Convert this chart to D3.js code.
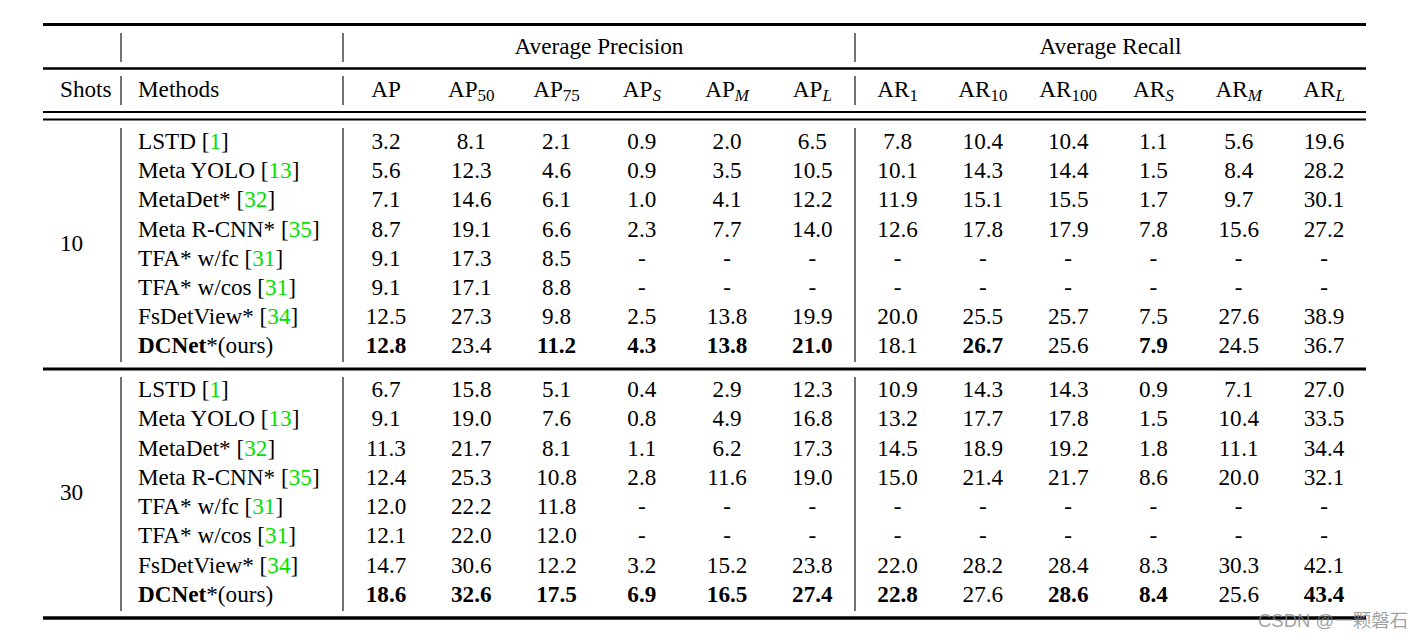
<!DOCTYPE html>
<html>
<head>
<meta charset="utf-8">
<script src="https://cdn.jsdelivr.net/npm/d3@7"></script>
<style>
  html, body { margin: 0; padding: 0; background: #fff; }
  svg { display: block; }
  text { font-family: "Liberation Serif", "Times New Roman", serif; fill: #000; }
</style>
</head>
<body>
<svg id="chart" width="1425" height="640"></svg>
<script>
// ---------------- data ----------------
const shots = ["10", "30"];
const methods = ["LSTD", "Meta YOLO", "MetaDet*", "Meta R-CNN*", "TFA* w/fc", "TFA* w/cos", "FsDetView*", "DCNet"];
const refs = ["1", "13", "32", "35", "31", "31", "34", null];
const apMetrics = [["AP", "", false], ["AP", "50", false], ["AP", "75", false], ["AP", "S", true], ["AP", "M", true], ["AP", "L", true]];
const arMetrics = [["AR", "1", false], ["AR", "10", false], ["AR", "100", false], ["AR", "S", true], ["AR", "M", true], ["AR", "L", true]];
const groupTitles = ["Average Precision", "Average Recall"];

// values per method: 6 AP metrics then 6 AR metrics (null = "-")
const shots10 = [
  [3.2, 8.1, 2.1, 0.9, 2.0, 6.5, 7.8, 10.4, 10.4, 1.1, 5.6, 19.6],
  [5.6, 12.3, 4.6, 0.9, 3.5, 10.5, 10.1, 14.3, 14.4, 1.5, 8.4, 28.2],
  [7.1, 14.6, 6.1, 1.0, 4.1, 12.2, 11.9, 15.1, 15.5, 1.7, 9.7, 30.1],
  [8.7, 19.1, 6.6, 2.3, 7.7, 14.0, 12.6, 17.8, 17.9, 7.8, 15.6, 27.2],
  [9.1, 17.3, 8.5, null, null, null, null, null, null, null, null, null],
  [9.1, 17.1, 8.8, null, null, null, null, null, null, null, null, null],
  [12.5, 27.3, 9.8, 2.5, 13.8, 19.9, 20.0, 25.5, 25.7, 7.5, 27.6, 38.9],
  [12.8, 23.4, 11.2, 4.3, 13.8, 21.0, 18.1, 26.7, 25.6, 7.9, 24.5, 36.7]
];
const shots30 = [
  [6.7, 15.8, 5.1, 0.4, 2.9, 12.3, 10.9, 14.3, 14.3, 0.9, 7.1, 27.0],
  [9.1, 19.0, 7.6, 0.8, 4.9, 16.8, 13.2, 17.7, 17.8, 1.5, 10.4, 33.5],
  [11.3, 21.7, 8.1, 1.1, 6.2, 17.3, 14.5, 18.9, 19.2, 1.8, 11.1, 34.4],
  [12.4, 25.3, 10.8, 2.8, 11.6, 19.0, 15.0, 21.4, 21.7, 8.6, 20.0, 32.1],
  [12.0, 22.2, 11.8, null, null, null, null, null, null, null, null, null],
  [12.1, 22.0, 12.0, null, null, null, null, null, null, null, null, null],
  [14.7, 30.6, 12.2, 3.2, 15.2, 23.8, 22.0, 28.2, 28.4, 8.3, 30.3, 42.1],
  [18.6, 32.6, 17.5, 6.9, 16.5, 27.4, 22.8, 27.6, 28.6, 8.4, 25.6, 43.4]
];
// bold (best) cells in the DCNet row, by metric index
const best10 = [0, 2, 3, 4, 5, 7, 9];
const best30 = [0, 1, 2, 3, 4, 5, 6, 8, 9, 11];
const watermark = "CSDN @一颗磐石";

// ---------------- layout ----------------
const svg = d3.select("#chart");
const FS = 23.2, SUB = 17;
const left = 43, right = 1366;
const vx = [121, 343, 855];

const metrics = apMetrics.concat(arMetrics);
const x = d3.scalePoint().domain(d3.range(metrics.length)).range([386, 1324]);
const yRow1 = d3.scalePoint().domain(d3.range(methods.length)).range([149, 353.4]);
const yRow2 = d3.scalePoint().domain(d3.range(methods.length)).range([397, 602]);

// rules
function rule(y, w) {
  svg.append("line").attr("x1", left).attr("x2", right).attr("y1", y).attr("y2", y)
    .attr("stroke", "#000").attr("stroke-width", w);
}
rule(24.5, 3);
rule(68.5, 2.5);
rule(112, 2);
rule(119.5, 2);
rule(369, 3);
rule(618, 3.5);

function vline(xx, y1, y2) {
  svg.append("line").attr("x1", xx).attr("x2", xx).attr("y1", y1).attr("y2", y2)
    .attr("stroke", "#000").attr("stroke-width", 1.1);
}
// header row 1
vline(vx[0], 33, 62); vline(vx[1], 33, 62); vline(vx[2], 33, 62);
// header row 2
vline(vx[0], 76, 105); vline(vx[1], 76, 105); vline(vx[2], 76, 105);
// body
[[128, 362], [377, 611]].forEach(([a, b]) => vx.forEach(v => vline(v, a, b)));

// header titles
svg.append("text").attr("x", (vx[1] + vx[2]) / 2).attr("y", 54).attr("text-anchor", "middle")
  .attr("font-size", FS).text(groupTitles[0]);
svg.append("text").attr("x", (vx[2] + right) / 2).attr("y", 54).attr("text-anchor", "middle")
  .attr("font-size", FS).text(groupTitles[1]);

svg.append("text").attr("x", 60).attr("y", 97).attr("font-size", FS).text("Shots");
svg.append("text").attr("x", 138).attr("y", 97).attr("font-size", FS).text("Methods");

metrics.forEach((m, i) => {
  const t = svg.append("text").attr("x", x(i)).attr("y", 97).attr("text-anchor", "middle").attr("font-size", FS);
  t.append("tspan").text(m[0]);
  if (m[1]) {
    t.append("tspan").attr("dy", 4).attr("font-size", SUB)
      .attr("font-style", m[2] ? "italic" : "normal").text(m[1]);
  }
});

// body
const fmt = d3.format(".1f");
[[shots10, best10, yRow1], [shots30, best30, yRow2]].forEach(([vals, best, yS], g) => {
  const rows = d3.range(methods.length);
  const mid = (yS(0) + yS(methods.length - 1)) / 2;
  svg.append("text").attr("x", 60).attr("y", mid).attr("font-size", FS).text(shots[g]);

  rows.forEach(r => {
    const t = svg.append("text").attr("x", 138).attr("y", yS(r)).attr("font-size", FS);
    if (refs[r] === null) {
      t.append("tspan").attr("font-weight", "bold").text(methods[r]);
      t.append("tspan").text("*(ours)");
    } else {
      t.append("tspan").text(methods[r] + " [");
      t.append("tspan").style("fill", "#00e000").text(refs[r]);
      t.append("tspan").text("]");
    }
    svg.append("g").selectAll("text").data(vals[r]).join("text")
      .attr("x", (d, i) => x(i)).attr("y", yS(r))
      .attr("text-anchor", "middle").attr("font-size", FS)
      .attr("font-weight", (d, i) => (r === methods.length - 1 && best.includes(i)) ? "bold" : "normal")
      .text(d => d === null ? "-" : fmt(d));
  });
});

// watermark
svg.append("text").attr("x", 1258).attr("y", 627)
  .style("font-family", "'Liberation Sans', 'Noto Sans CJK SC', sans-serif")
  .attr("font-size", 18.5).style("fill", "rgba(130,130,130,0.75)")
  .text(watermark);
</script>
</body>
</html>
